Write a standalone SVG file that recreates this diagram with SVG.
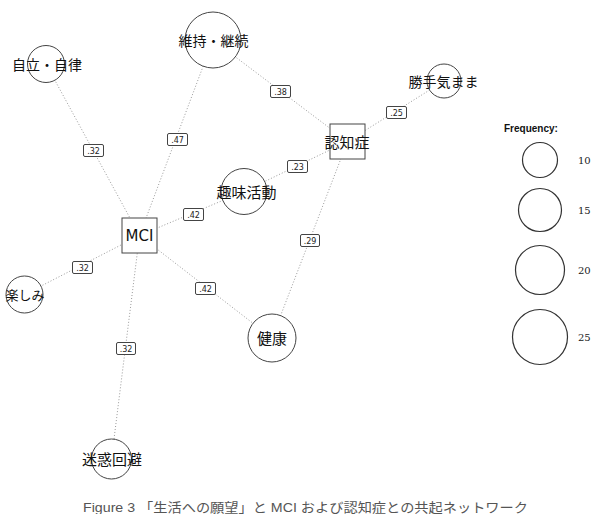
<svg xmlns="http://www.w3.org/2000/svg" width="591" height="514" viewBox="0 0 591 514">
<style>
.edge{stroke:#9a9a9a;stroke-width:1;stroke-dasharray:1 2;fill:none}
.node{fill:#fff;stroke:#444;stroke-width:1}
.lbl{font-family:"Noto Sans CJK JP","Noto Sans",sans-serif;fill:#111;text-anchor:middle}
.mci{font-family:"DejaVu Sans",sans-serif;font-size:15px;fill:#111;text-anchor:middle}
.wbox{fill:#fff;stroke:#444;stroke-width:1}
.wtxt{font-family:"DejaVu Sans",sans-serif;font-size:8px;fill:#222;text-anchor:middle}
.leg{fill:none;stroke:#333;stroke-width:1.2}
.legt{font-family:"DejaVu Serif",serif;font-size:10px;fill:#222}
</style>
<rect width="591" height="514" fill="#fff"/>
<g id="connectors">
<line class="edge" x1="139.5" y1="235.5" x2="46" y2="64"/>
<line class="edge" x1="139.5" y1="235.5" x2="213" y2="40"/>
<line class="edge" x1="139.5" y1="235.5" x2="244" y2="191.5"/>
<line class="edge" x1="139.5" y1="235.5" x2="24.5" y2="294.5"/>
<line class="edge" x1="139.5" y1="235.5" x2="272" y2="338"/>
<line class="edge" x1="139.5" y1="235.5" x2="111.5" y2="459"/>
<line class="edge" x1="347.5" y1="141.5" x2="213" y2="40"/>
<line class="edge" x1="347.5" y1="141.5" x2="444" y2="81"/>
<line class="edge" x1="347.5" y1="141.5" x2="244" y2="191.5"/>
<line class="edge" x1="347.5" y1="141.5" x2="272" y2="338"/>
<g id="weights">
<rect class="wbox" x="83.5" y="144.5" width="20" height="12" rx="1.5"/><text class="wtxt" x="93.5" y="153.5">.32</text>
<rect class="wbox" x="167.5" y="133.5" width="20" height="12" rx="1.5"/><text class="wtxt" x="177.5" y="142.5">.47</text>
<rect class="wbox" x="270.5" y="85.5" width="20" height="12" rx="1.5"/><text class="wtxt" x="280.5" y="94.5">.38</text>
<rect class="wbox" x="183.5" y="208.5" width="20" height="12" rx="1.5"/><text class="wtxt" x="193.5" y="217.5">.42</text>
<rect class="wbox" x="287.5" y="160.5" width="20" height="12" rx="1.5"/><text class="wtxt" x="297.5" y="169.5">.23</text>
<rect class="wbox" x="386.5" y="106.5" width="20" height="12" rx="1.5"/><text class="wtxt" x="396.5" y="115.5">.25</text>
<rect class="wbox" x="300.5" y="234.5" width="19" height="12" rx="1.5"/><text class="wtxt" x="310" y="243.5">.29</text>
<rect class="wbox" x="72.5" y="261.5" width="20" height="12" rx="1.5"/><text class="wtxt" x="82.5" y="270.5">.32</text>
<rect class="wbox" x="195.5" y="282.5" width="20" height="12" rx="1.5"/><text class="wtxt" x="205.5" y="291.5">.42</text>
<rect class="wbox" x="116.5" y="342.5" width="19" height="12" rx="1.5"/><text class="wtxt" x="126" y="351.5">.32</text>
</g>
</g>
<g id="n-jiritsu"><circle class="node" cx="46" cy="64" r="18.5"/><text class="lbl" x="47" y="70" font-size="14">自立・自律</text></g>
<g id="n-iji"><circle class="node" cx="213" cy="40" r="28"/><text class="lbl" x="213.5" y="46" font-size="14">維持・継続</text></g>
<g id="n-katte"><circle class="node" cx="444" cy="81" r="17"/><text class="lbl" x="443.5" y="87" font-size="14">勝手気まま</text></g>
<g id="n-ninchi"><rect class="node" x="330" y="124" width="35" height="35"/><text class="lbl" x="347" y="147.5" font-size="15">認知症</text></g>
<g id="n-shumi"><circle class="node" cx="244" cy="191.5" r="23"/><text class="lbl" x="246.5" y="197.5" font-size="15">趣味活動</text></g>
<g id="n-mci"><rect class="node" x="122" y="218" width="35" height="35"/><text class="mci" x="139.5" y="241">MCI</text></g>
<g id="n-tanoshimi"><circle class="node" cx="24.5" cy="294.5" r="18.5"/><text class="lbl" x="25" y="300" font-size="13">楽しみ</text></g>
<g id="n-kenkou"><circle class="node" cx="272" cy="338" r="24"/><text class="lbl" x="272" y="344" font-size="15">健康</text></g>
<g id="n-meiwaku"><circle class="node" cx="111.5" cy="459" r="20"/><text class="lbl" x="112" y="465" font-size="15">迷惑回避</text></g>
<g id="legend">
<text x="504" y="132" font-family="Liberation Sans,Arial,sans-serif" font-size="10" font-weight="bold" fill="#111">Frequency:</text>
<circle class="leg" cx="540" cy="160" r="17.5"/><text class="legt" x="578" y="164">10</text>
<circle class="leg" cx="540" cy="210" r="21.5"/><text class="legt" x="578" y="214">15</text>
<circle class="leg" cx="540" cy="270" r="24.5"/><text class="legt" x="578" y="274">20</text>
<circle class="leg" cx="540" cy="337" r="27.5"/><text class="legt" x="578" y="341">25</text>
</g>
<text x="83" y="512" font-family="Liberation Sans,Arial,'Noto Sans CJK JP',sans-serif" font-size="13" fill="#555" textLength="445" lengthAdjust="spacingAndGlyphs">Figure 3 「生活への願望」と MCI および認知症との共起ネットワーク</text>
</svg>
